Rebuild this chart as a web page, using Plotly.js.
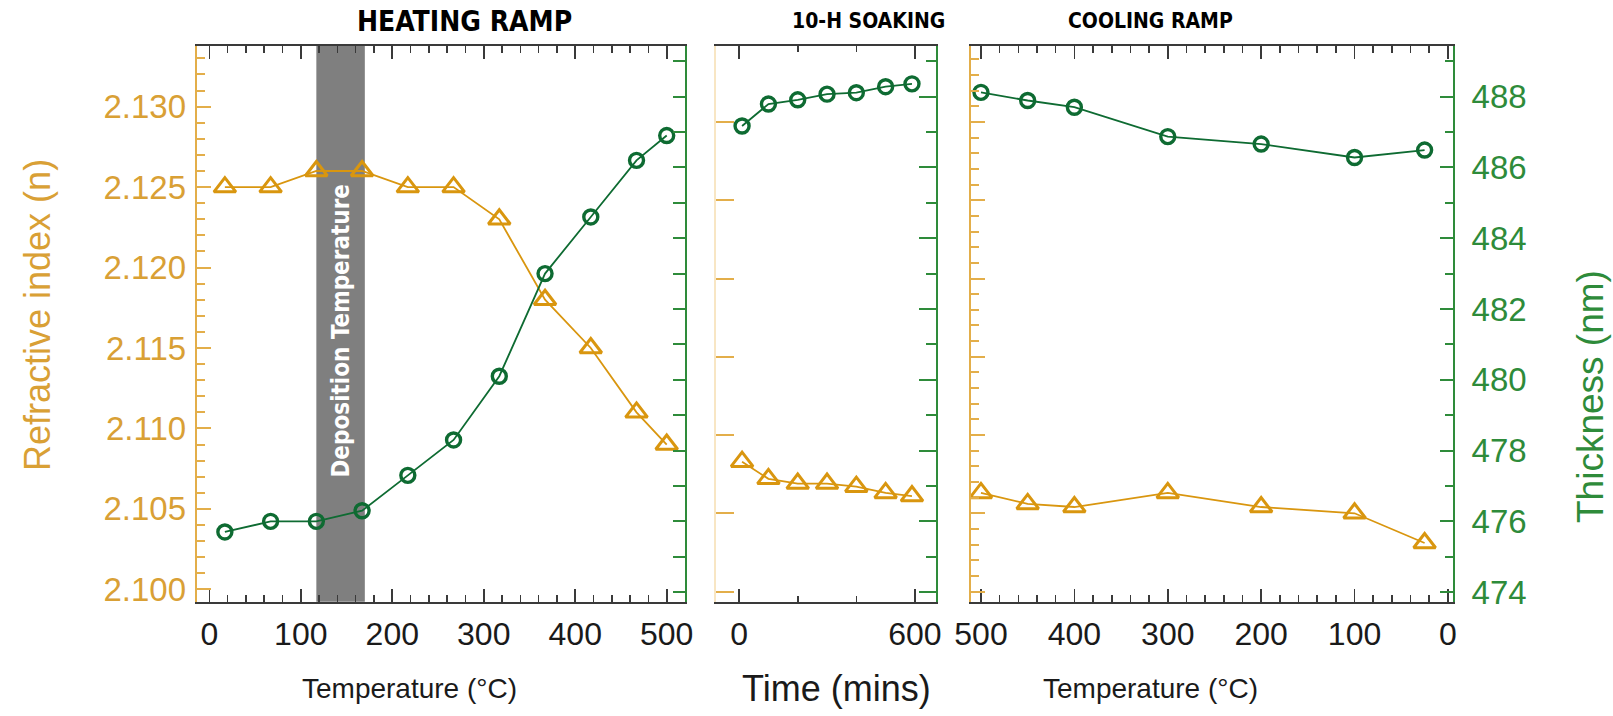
<!DOCTYPE html>
<html>
<head>
<meta charset="utf-8">
<script src="https://cdn.plot.ly/plotly-3.0.1.min.js"></script>
<style>
html,body{margin:0;padding:0;background:#fff;}
#chart{width:1613px;height:716px;}
</style>
</head>
<body>
<div id="chart"></div>
<script>
// ---- Data ----
const heatT   = [17, 67, 117, 167, 217, 267, 317, 367, 417, 467, 500];
const heatN   = [2.125, 2.125, 2.126, 2.126, 2.125, 2.125, 2.123, 2.118, 2.115, 2.111, 2.109];
const heatThk = [475.7, 476.0, 476.0, 476.3, 477.3, 478.3, 480.1, 483.0, 484.6, 486.2, 486.9];

const soakTime = [10, 100, 200, 300, 400, 500, 590];
const soakN    = [2.1083, 2.1072, 2.1069, 2.1069, 2.1067, 2.1063, 2.1061];
const soakThk  = [487.17, 487.79, 487.91, 488.07, 488.11, 488.28, 488.36];

const coolT   = [500, 450, 400, 300, 200, 100, 25];
const coolN   = [2.1063, 2.1056, 2.1054, 2.1063, 2.1054, 2.1050, 2.1031];
const coolThk = [488.12, 487.89, 487.70, 486.87, 486.66, 486.28, 486.49];

const depoBand = [117, 170];
const panelTitles = ["HEATING RAMP", "10-H SOAKING", "COOLING RAMP"];

// ---- Styles ----
const ORANGE = "#D9960F";
const ORANGE_TXT = "#D9A035";
const GREEN = "#0E6B32";
const GREEN_AX = "#2E8B3A";
const W = 1613, H = 716;
const px = v => v / W;
const py = v => 1 - v / H;
const yDom = [py(601.7), py(46)];
const SANS = "Liberation Sans, Arial, sans-serif";
const COND = "DejaVu Sans Condensed, Liberation Sans Narrow, Liberation Sans, sans-serif";

const triMarker = {symbol: "triangle-up-open", size: 19, color: ORANGE, line: {width: 3, color: ORANGE}};
const cirMarker = {symbol: "circle-open", size: 14, color: GREEN, line: {width: 3.4, color: GREEN}};

const traces = [
  {x: heatT, y: heatN, xaxis: "x", yaxis: "y", mode: "lines+markers", line: {color: ORANGE, width: 1.8}, marker: triMarker},
  {x: heatT, y: heatThk, xaxis: "x", yaxis: "y2", mode: "lines+markers", line: {color: GREEN, width: 1.8}, marker: cirMarker},
  {x: soakTime, y: soakN, xaxis: "x2", yaxis: "y3", mode: "lines+markers", line: {color: ORANGE, width: 1.8}, marker: triMarker},
  {x: soakTime, y: soakThk, xaxis: "x2", yaxis: "y4", mode: "lines+markers", line: {color: GREEN, width: 1.8}, marker: cirMarker},
  {x: coolT, y: coolN, xaxis: "x3", yaxis: "y5", mode: "lines+markers", line: {color: ORANGE, width: 1.8}, marker: triMarker},
  {x: coolT, y: coolThk, xaxis: "x3", yaxis: "y6", mode: "lines+markers", line: {color: GREEN, width: 1.8}, marker: cirMarker}
];

const tickFont = {family: SANS, size: 32, color: "#1a1a1a"};
function xAx(domain, range, anchor, extra) {
  return Object.assign({
    domain: domain, range: range, anchor: anchor,
    showline: true, linecolor: "#3a3a3a", linewidth: 2.5, mirror: "ticks",
    ticks: "inside", ticklen: 13, tickwidth: 1.6, tickcolor: "#3a3a3a",
    showgrid: false, zeroline: false, tickfont: tickFont, ticklabelstandoff: 2
  }, extra);
}
function yAx(range, color, extra) {
  return Object.assign({
    domain: yDom, range: range, showline: true, linecolor: color, linewidth: 2,
    ticks: "inside", tickcolor: color, tickwidth: 2, showgrid: false, zeroline: false
  }, extra);
}
const thkRange = [473.73, 489.43];
const riHeat = [2.09923, 2.13377];
const riOther = [2.09935, 2.13486];

function ann(text, x, y, size, color, family, extra) {
  return Object.assign({text: text, xref: "paper", yref: "paper", x: px(x), y: py(y),
    xanchor: "center", yanchor: "middle", showarrow: false,
    font: {family: family, size: size, color: color}}, extra);
}

const layout = {
  width: W, height: H, margin: {l: 0, r: 0, t: 0, b: 0},
  paper_bgcolor: "#fff", plot_bgcolor: "#fff", showlegend: false,
  xaxis: xAx([px(196.7), px(685)], [-13.8, 520], "y",
    {dtick: 100, tick0: 0, minor: {dtick: 20, ticklen: 7, ticks: "inside", tickcolor: "#3a3a3a", tickwidth: 1.6}}),
  yaxis: yAx(riHeat, "#E3AE4A", {anchor: "x", side: "left", dtick: 0.005, tick0: 2.1, ticklen: 14,
    tickformat: ".3f", tickfont: {family: SANS, size: 33, color: ORANGE_TXT}, ticklabelstandoff: 2,
    minor: {dtick: 0.001, ticklen: 8, ticks: "inside", tickcolor: "#E3AE4A", tickwidth: 2}}),
  yaxis2: yAx(thkRange, GREEN_AX, {anchor: "x", overlaying: "y", side: "right", dtick: 1, ticklen: 12,
    showticklabels: false}),
  xaxis2: xAx([px(716), px(936)], [-79, 672], "y3",
    {dtick: 600, tick0: 0, minor: {dtick: 200, ticklen: 6, ticks: "inside", tickcolor: "#3a3a3a", tickwidth: 1.6}}),
  yaxis3: yAx(riOther, "#F8E6C4", {anchor: "x2", side: "left", dtick: 0.005, tick0: 2.1, ticklen: 18,
    tickcolor: "#E3AE4A", showticklabels: false}),
  yaxis4: yAx(thkRange, GREEN_AX, {anchor: "x2", overlaying: "y3", side: "right", dtick: 2, tick0: 474, ticklen: 17,
    showticklabels: false, minor: {dtick: 1, ticklen: 10, ticks: "inside", tickcolor: GREEN_AX, tickwidth: 2}}),
  xaxis3: xAx([px(970.7), px(1453)], [511, -5.4], "y5",
    {dtick: 100, tick0: 0, minor: {dtick: 20, ticklen: 7, ticks: "inside", tickcolor: "#3a3a3a", tickwidth: 1.6}}),
  yaxis5: yAx(riOther, "#E3AE4A", {anchor: "x3", side: "left", dtick: 0.005, tick0: 2.1, ticklen: 14,
    showticklabels: false, minor: {dtick: 0.001, ticklen: 8, ticks: "inside", tickcolor: "#E3AE4A", tickwidth: 2}}),
  yaxis6: yAx(thkRange, GREEN_AX, {anchor: "x3", overlaying: "y5", side: "right", dtick: 2, tick0: 474, ticklen: 13,
    tickfont: {family: SANS, size: 33, color: GREEN_AX}, ticklabelstandoff: 10,
    minor: {dtick: 1, ticklen: 8, ticks: "inside", tickcolor: GREEN_AX, tickwidth: 2}}),
  shapes: [
    {type: "rect", xref: "x", yref: "y domain", x0: depoBand[0], x1: depoBand[1], y0: 0, y1: 1,
     fillcolor: "#7f7f7f", line: {width: 0}, layer: "below"}
  ],
  annotations: [
    {text: "Deposition Temperature", xref: "x", yref: "paper", x: (depoBand[0] + depoBand[1]) / 2, y: py(331),
     xanchor: "center", yanchor: "middle", textangle: -90, showarrow: false,
     font: {family: COND, size: 24, color: "#fff", weight: "bold"}},
    ann(panelTitles[0], 464, 21, 28, "#000", COND, {font: {family: COND, size: 28, color: "#000", weight: "bold"}}),
    ann(panelTitles[1], 868, 21, 21, "#000", COND, {font: {family: COND, size: 21, color: "#000", weight: "bold"}}),
    ann(panelTitles[2], 1150, 21, 21, "#000", COND, {font: {family: COND, size: 21, color: "#000", weight: "bold"}}),
    ann("Temperature (°C)", 409, 688, 28, "#1a1a1a", SANS),
    ann("Time (mins)", 836, 688, 36, "#1a1a1a", SANS),
    ann("Temperature (°C)", 1150, 688, 28, "#1a1a1a", SANS),
    ann("Refractive index (n)", 37, 315, 36, ORANGE_TXT, SANS, {textangle: -90}),
    ann("Thickness (nm)", 1590, 397, 37, GREEN_AX, SANS, {textangle: -90})
  ]
};

Plotly.newPlot("chart", traces, layout, {displayModeBar: false, staticPlot: true});
</script>
</body>
</html>
